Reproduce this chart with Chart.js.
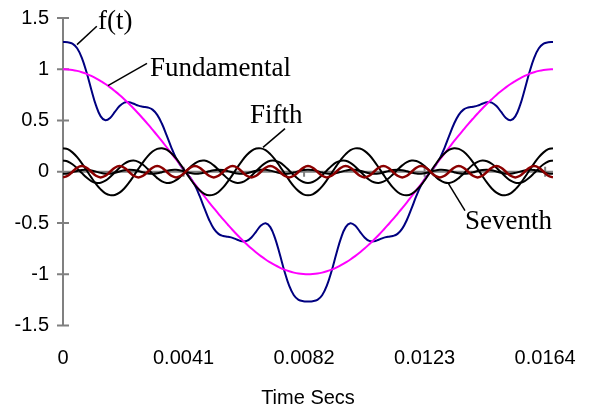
<!DOCTYPE html>
<html>
<head>
<meta charset="utf-8">
<script src="https://cdn.jsdelivr.net/npm/chart.js@4.4.1/dist/chart.umd.min.js"></script>
<style>
  html, body { margin: 0; padding: 0; background: #fff; }
</style>
</head>
<body>
<canvas id="chart" width="594" height="410"></canvas>
<script>
// Sample times (seconds), one cycle of 60 Hz
const times = [
  0, 0.0001603, 0.0003205, 0.0004808, 0.0006410, 0.0008013, 0.0009615, 0.0011218, 0.0012821, 0.0014423,
  0.0016026, 0.0017628, 0.0019231, 0.0020833, 0.0022436, 0.0024038, 0.0025641, 0.0027244, 0.0028846, 0.0030449,
  0.0032051, 0.0033654, 0.0035256, 0.0036859, 0.0038462, 0.0040064, 0.0041667, 0.0043269, 0.0044872, 0.0046474,
  0.0048077, 0.0049679, 0.0051282, 0.0052885, 0.0054487, 0.0056090, 0.0057692, 0.0059295, 0.0060897, 0.0062500,
  0.0064103, 0.0065705, 0.0067308, 0.0068910, 0.0070513, 0.0072115, 0.0073718, 0.0075321, 0.0076923, 0.0078526,
  0.0080128, 0.0081731, 0.0083333, 0.0084936, 0.0086538, 0.0088141, 0.0089744, 0.0091346, 0.0092949, 0.0094551,
  0.0096154, 0.0097756, 0.0099359, 0.0100962, 0.0102564, 0.0104167, 0.0105769, 0.0107372, 0.0108974, 0.0110577,
  0.0112179, 0.0113782, 0.0115385, 0.0116987, 0.0118590, 0.0120192, 0.0121795, 0.0123397, 0.0125000, 0.0126603,
  0.0128205, 0.0129808, 0.0131410, 0.0133013, 0.0134615, 0.0136218, 0.0137821, 0.0139423, 0.0141026, 0.0142628,
  0.0144231, 0.0145833, 0.0147436, 0.0149038, 0.0150641, 0.0152244, 0.0153846, 0.0155449, 0.0157051, 0.0158654,
  0.0160256, 0.0161859, 0.0163462, 0.0165064, 0.0166667
];

const fT = [
  1.265, 1.263, 1.25, 1.205, 1.112, 0.97, 0.803, 0.647, 0.54, 0.502, 0.525, 0.583, 0.641, 0.675, 0.679, 0.663, 0.645, 0.635, 0.627, 0.606, 0.555, 0.468, 0.355, 0.236, 0.133, 0.057, 0,
  -0.057, -0.133, -0.236, -0.355, -0.468, -0.555, -0.606, -0.627, -0.635, -0.645, -0.663, -0.679, -0.675, -0.641, -0.583, -0.525, -0.502, -0.54, -0.647, -0.803, -0.97, -1.112, -1.205, -1.25, -1.263, -1.265,
  -1.263, -1.25, -1.205, -1.112, -0.97, -0.803, -0.647, -0.54, -0.502, -0.525, -0.583, -0.641, -0.675, -0.679, -0.663, -0.645, -0.635, -0.627, -0.606, -0.555, -0.468, -0.355, -0.236, -0.133, -0.057, 0,
  0.057, 0.133, 0.236, 0.355, 0.468, 0.555, 0.606, 0.627, 0.635, 0.645, 0.663, 0.679, 0.675, 0.641, 0.583, 0.525, 0.502, 0.54, 0.647, 0.803, 0.97, 1.112, 1.205, 1.25, 1.263, 1.265
];

const fundamental = [
  1, 0.998, 0.993, 0.984, 0.971, 0.955, 0.935, 0.912, 0.885, 0.856, 0.823, 0.787, 0.749, 0.707, 0.663, 0.617, 0.568, 0.517, 0.465, 0.41, 0.355, 0.298, 0.239, 0.18, 0.121, 0.06, 0,
  -0.06, -0.121, -0.18, -0.239, -0.298, -0.355, -0.41, -0.465, -0.517, -0.568, -0.617, -0.663, -0.707, -0.749, -0.787, -0.823, -0.856, -0.885, -0.912, -0.935, -0.955, -0.971, -0.984, -0.993, -0.998, -1,
  -0.998, -0.993, -0.984, -0.971, -0.955, -0.935, -0.912, -0.885, -0.856, -0.823, -0.787, -0.749, -0.707, -0.663, -0.617, -0.568, -0.517, -0.465, -0.41, -0.355, -0.298, -0.239, -0.18, -0.121, -0.06, 0,
  0.06, 0.121, 0.18, 0.239, 0.298, 0.355, 0.41, 0.465, 0.517, 0.568, 0.617, 0.663, 0.707, 0.749, 0.787, 0.823, 0.856, 0.885, 0.912, 0.935, 0.955, 0.971, 0.984, 0.993, 0.998, 1
];

const fifth = [
  0.23, 0.22, 0.189, 0.142, 0.082, 0.014, -0.055, -0.119, -0.172, -0.21, -0.228, -0.226, -0.204, -0.163, -0.107, -0.041, 0.028, 0.094, 0.153, 0.197, 0.223, 0.23, 0.215, 0.181, 0.131, 0.068, 0,
  -0.068, -0.131, -0.181, -0.215, -0.23, -0.223, -0.197, -0.153, -0.094, -0.028, 0.041, 0.107, 0.163, 0.204, 0.226, 0.228, 0.21, 0.172, 0.119, 0.055, -0.014, -0.082, -0.142, -0.189, -0.22, -0.23,
  -0.22, -0.189, -0.142, -0.082, -0.014, 0.055, 0.119, 0.172, 0.21, 0.228, 0.226, 0.204, 0.163, 0.107, 0.041, -0.028, -0.094, -0.153, -0.197, -0.223, -0.23, -0.215, -0.181, -0.131, -0.068, 0,
  0.068, 0.131, 0.181, 0.215, 0.23, 0.223, 0.197, 0.153, 0.094, 0.028, -0.041, -0.107, -0.163, -0.204, -0.226, -0.228, -0.21, -0.172, -0.119, -0.055, 0.014, 0.082, 0.142, 0.189, 0.22, 0.23
];

const seventh = [
  0.11, 0.1, 0.073, 0.033, -0.013, -0.057, -0.091, -0.108, -0.107, -0.087, -0.051, -0.007, 0.039, 0.078, 0.103, 0.11, 0.097, 0.068, 0.026, -0.02, -0.062, -0.094, -0.109, -0.105, -0.082, -0.045, 0,
  0.045, 0.082, 0.105, 0.109, 0.094, 0.062, 0.02, -0.026, -0.068, -0.097, -0.11, -0.103, -0.078, -0.039, 0.007, 0.051, 0.087, 0.107, 0.108, 0.091, 0.057, 0.013, -0.033, -0.073, -0.1, -0.11,
  -0.1, -0.073, -0.033, 0.013, 0.057, 0.091, 0.108, 0.107, 0.087, 0.051, 0.007, -0.039, -0.078, -0.103, -0.11, -0.097, -0.068, -0.026, 0.02, 0.062, 0.094, 0.109, 0.105, 0.082, 0.045, 0,
  -0.045, -0.082, -0.105, -0.109, -0.094, -0.062, -0.02, 0.026, 0.068, 0.097, 0.11, 0.103, 0.078, 0.039, -0.007, -0.051, -0.087, -0.107, -0.108, -0.091, -0.057, -0.013, 0.033, 0.073, 0.1, 0.11
];

const eleventh = [
  -0.02, -0.016, -0.005, 0.008, 0.018, 0.02, 0.013, 0.001, -0.011, -0.019, -0.019, -0.01, 0.002, 0.014, 0.02, 0.017, 0.007, -0.006, -0.016, -0.02, -0.015, -0.004, 0.009, 0.018, 0.019, 0.012, 0,
  -0.012, -0.019, -0.018, -0.009, 0.004, 0.015, 0.02, 0.016, 0.006, -0.007, -0.017, -0.02, -0.014, -0.002, 0.01, 0.019, 0.019, 0.011, -0.001, -0.013, -0.02, -0.018, -0.008, 0.005, 0.016, 0.02,
  0.016, 0.005, -0.008, -0.018, -0.02, -0.013, -0.001, 0.011, 0.019, 0.019, 0.01, -0.002, -0.014, -0.02, -0.017, -0.007, 0.006, 0.016, 0.02, 0.015, 0.004, -0.009, -0.018, -0.019, -0.012, 0,
  0.012, 0.019, 0.018, 0.009, -0.004, -0.015, -0.02, -0.016, -0.006, 0.007, 0.017, 0.02, 0.014, 0.002, -0.01, -0.019, -0.019, -0.011, 0.001, 0.013, 0.02, 0.018, 0.008, -0.005, -0.016, -0.02
];

const thirteenth = [
  -0.055, -0.039, 0, 0.039, 0.055, 0.039, 0, -0.039,
  -0.055, -0.039, 0, 0.039, 0.055, 0.039, 0, -0.039,
  -0.055, -0.039, 0, 0.039, 0.055, 0.039, 0, -0.039,
  -0.055, -0.039, 0, 0.039, 0.055, 0.039, 0, -0.039,
  -0.055, -0.039, 0, 0.039, 0.055, 0.039, 0, -0.039,
  -0.055, -0.039, 0, 0.039, 0.055, 0.039, 0, -0.039,
  -0.055, -0.039, 0, 0.039, 0.055, 0.039, 0, -0.039,
  -0.055, -0.039, 0, 0.039, 0.055, 0.039, 0, -0.039,
  -0.055, -0.039, 0, 0.039, 0.055, 0.039, 0, -0.039,
  -0.055, -0.039, 0, 0.039, 0.055, 0.039, 0, -0.039,
  -0.055, -0.039, 0, 0.039, 0.055, 0.039, 0, -0.039,
  -0.055, -0.039, 0, 0.039, 0.055, 0.039, 0, -0.039,
  -0.055, -0.039, 0, 0.039, 0.055, 0.039, 0, -0.039,
  -0.055
];

const xTicks = [0, 0.0041, 0.0082, 0.0123, 0.0164];
const xTickLabels = ['0', '0.0041', '0.0082', '0.0123', '0.0164'];
const yTicks = [-1.5, -1, -0.5, 0, 0.5, 1, 1.5];
const yTickLabels = ['-1.5', '-1', '-0.5', '0', '0.5', '1', '1.5'];

// Callout labels: curve point, end of leader, text baseline start (data units)
const notes = [
  { text: 'f(t)',        at: [0.000476, 1.24],  end: [0.00115, 1.42],  label: [0.00119, 1.39] },
  { text: 'Fundamental', at: [0.00153, 0.84],   end: [0.002857, 1.057], label: [0.002959, 0.932] },
  { text: 'Fifth',       at: [0.006803, 0.238], end: [0.007551, 0.421], label: [0.006361, 0.479] },
  { text: 'Seventh',     at: [0.013095, -0.109], end: [0.013673, -0.379], label: [0.013673, -0.562] }
];

function pairs(values) {
  return times.map((t, i) => ({ x: t, y: values[i] }));
}

const axisMarks = {
  id: 'axisMarks',
  beforeDatasetsDraw(chart) {
    const { ctx, chartArea, scales: { x, y } } = chart;
    const y0 = y.getPixelForValue(0);
    ctx.save();
    ctx.strokeStyle = '#808080';
    ctx.lineWidth = 2;
    ctx.beginPath();
    ctx.moveTo(chartArea.left, chartArea.top);
    ctx.lineTo(chartArea.left, chartArea.bottom);
    ctx.moveTo(chartArea.left, y0);
    ctx.lineTo(chartArea.right, y0);
    xTicks.forEach(v => {
      const px = x.getPixelForValue(v);
      ctx.moveTo(px, y0 - 5);
      ctx.lineTo(px, y0 + 5);
    });
    yTicks.forEach(v => {
      const py = y.getPixelForValue(v);
      ctx.moveTo(chartArea.left - 6, py);
      ctx.lineTo(chartArea.left + 6, py);
    });
    ctx.stroke();
    ctx.restore();
  }
};

const callouts = {
  id: 'callouts',
  afterDatasetsDraw(chart) {
    const { ctx, scales: { x, y } } = chart;
    ctx.save();
    ctx.strokeStyle = '#000';
    ctx.lineWidth = 1.5;
    ctx.fillStyle = '#000';
    ctx.font = '27px "Liberation Serif", "Times New Roman", serif';
    ctx.textAlign = 'left';
    ctx.textBaseline = 'alphabetic';
    notes.forEach(n => {
      ctx.beginPath();
      ctx.moveTo(x.getPixelForValue(n.at[0]), y.getPixelForValue(n.at[1]));
      ctx.lineTo(x.getPixelForValue(n.end[0]), y.getPixelForValue(n.end[1]));
      ctx.stroke();
      ctx.fillText(n.text, x.getPixelForValue(n.label[0]), y.getPixelForValue(n.label[1]));
    });
    ctx.restore();
  }
};

const tickFont = { family: '"Liberation Sans", Arial, sans-serif', size: 20 };

function line(label, values, color, width, order) {
  return {
    label: label,
    data: pairs(values),
    borderColor: color,
    borderWidth: width,
    pointRadius: 0,
    fill: false,
    tension: 0.4,
    order: order
  };
}

new Chart(document.getElementById('chart'), {
  type: 'line',
  data: {
    datasets: [
      line('f(t)', fT, '#000080', 2, 5),
      line('Fundamental', fundamental, '#ff00ff', 2, 4),
      line('Fifth', fifth, '#000000', 2, 3),
      line('Seventh', seventh, '#000000', 2, 2),
      line('Eleventh', eleventh, '#000000', 2, 1),
      line('Thirteenth', thirteenth, '#8b0000', 2.5, 0)
    ]
  },
  options: {
    responsive: false,
    animation: false,
    devicePixelRatio: 1,
    layout: { padding: { left: 0, right: 41, top: 16, bottom: 0 } },
    plugins: {
      legend: { display: false },
      tooltip: { enabled: false }
    },
    scales: {
      x: {
        type: 'linear',
        min: 0,
        max: times[times.length - 1],
        afterBuildTicks: s => { s.ticks = xTicks.map(v => ({ value: v })); },
        afterFit: s => { s.height = 84.5; },
        grid: { display: false },
        border: { display: false },
        ticks: {
          padding: 13,
          color: '#000',
          font: tickFont,
          maxRotation: 0,
          autoSkip: false,
          callback: (v, i) => xTickLabels[i]
        },
        title: { display: true, text: 'Time Secs', color: '#000', font: tickFont, padding: 0 }
      },
      y: {
        min: -1.5,
        max: 1.5,
        afterBuildTicks: s => { s.ticks = yTicks.map(v => ({ value: v })); },
        afterFit: s => { s.width = 63; },
        grid: { display: false },
        border: { display: false },
        ticks: {
          padding: 6,
          color: '#000',
          font: tickFont,
          callback: (v, i) => yTickLabels[i]
        }
      }
    }
  },
  plugins: [axisMarks, callouts]
});
</script>
</body>
</html>
